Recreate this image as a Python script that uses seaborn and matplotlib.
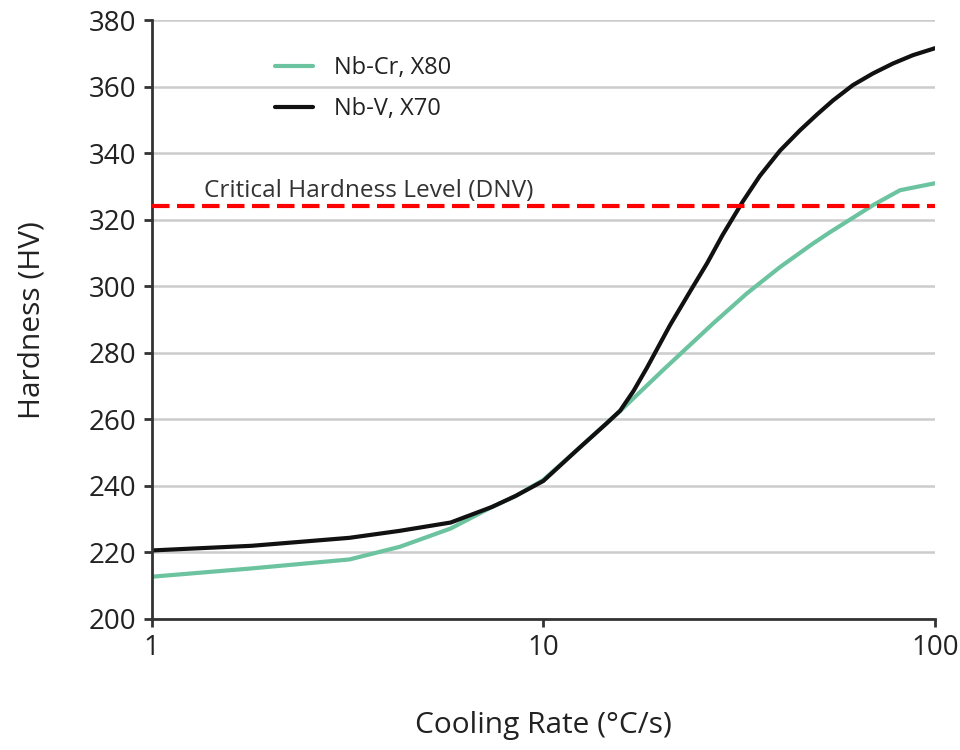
import numpy as np
import pandas as pd
import matplotlib
matplotlib.use("Agg")
import matplotlib.pyplot as plt
import seaborn as sns
from matplotlib.ticker import FixedLocator, FixedFormatter, NullLocator

# ---- data ----
series_names = ["Nb-Cr, X80", "Nb-V, X70"]

nbcr_x = [1, 1.8, 3.2, 4.3, 5.8, 7.4, 8.5, 10, 12.4, 15.7, 20.2, 27.1, 33.1, 40.2,
          48.7, 53.8, 69.4, 81.4, 100]
nbcr_y = [212.7, 215.2, 217.9, 221.7, 227.2, 233.7, 237, 241.8, 251.6, 262.5, 274.8,
          288.8, 297.9, 305.8, 312.8, 316.2, 324.4, 328.9, 331]

nbv_x = [1, 1.8, 3.2, 4.3, 5.8, 7.4, 8.5, 10, 12.4, 14.5, 15.7, 17, 18.4, 21.05, 23.7,
         26.2, 28.7, 32.3, 35.7, 40.2, 45.2, 50, 54.9, 61.7, 69.4, 78.1, 87.8, 100]
nbv_y = [220.6, 222, 224.4, 226.5, 229, 233.7, 237, 241.5, 251.6, 258.8, 262.6, 268.6,
         275.6, 288.3, 298.5, 307, 315.5, 325.5, 333.2, 340.8, 346.9, 351.7, 355.9,
         360.5, 364, 367, 369.5, 371.6]

critical_level = 324.3
critical_label = "Critical Hardness Level (DNV)"

x_ticks = [1, 10, 100]
x_tick_labels = ["1", "10", "100"]
y_ticks = [200, 220, 240, 260, 280, 300, 320, 340, 360, 380]

colors = ["#6cc3a0", "#111111"]

df = pd.concat([
    pd.DataFrame({"rate": nbcr_x, "hv": nbcr_y, "alloy": series_names[0]}),
    pd.DataFrame({"rate": nbv_x, "hv": nbv_y, "alloy": series_names[1]}),
])

sns.set_theme(style="white")
plt.rcParams["font.family"] = ["Open Sans", "DejaVu Sans"]

fig = plt.figure(figsize=(9.6, 7.5), dpi=100)
ax = fig.add_axes([0.158, 0.1747, 0.816, 0.7983])

for y in y_ticks:
    ax.axhline(y, color="#cccccc", lw=1.8, zorder=0)

sns.lineplot(data=df, x="rate", y="hv", hue="alloy", palette=colors,
             hue_order=series_names, ax=ax, lw=3, sort=False, estimator=None)
ax.lines[-1].set_linewidth(3.3)
for ln in ax.lines:
    ln.set_solid_joinstyle("round")
    ln.set_solid_capstyle("round")

ax.axhline(critical_level, color="#ff0000", lw=3.0, dashes=(4.2, 1.8), zorder=3)
ax.text(1.36, critical_level + 2.6, critical_label, fontsize=17.6, color="#333333",
        va="baseline", ha="left")

ax.set_xscale("log")
ax.set_xlim(1, 100)
ax.set_ylim(200, 380)
ax.xaxis.set_major_locator(FixedLocator(x_ticks))
ax.xaxis.set_major_formatter(FixedFormatter(x_tick_labels))
ax.xaxis.set_minor_locator(NullLocator())
ax.set_yticks(y_ticks)

for s in ["top", "right"]:
    ax.spines[s].set_visible(False)
for s in ["left", "bottom"]:
    ax.spines[s].set_color("#333333")
    ax.spines[s].set_linewidth(2)

ax.tick_params(axis="both", which="major", direction="out", length=6, width=2,
               color="#333333", labelsize=20, labelcolor="#222222", pad=5)
ax.tick_params(axis="both", bottom=True, left=True)

ax.set_xlabel("Cooling Rate (°C/s)", fontsize=21.5, color="#222222", labelpad=35)
ax.set_ylabel("Hardness (HV)", fontsize=21.5, color="#222222", labelpad=30)

leg = ax.legend(title=None, frameon=False, fontsize=17, loc="upper left",
                bbox_to_anchor=(0.13, 0.975), handlelength=1.6, handletextpad=0.9,
                labelspacing=0.7)
for t in leg.get_texts():
    t.set_color("#222222")
for h in leg.get_lines():
    h.set_linewidth(3)

fig.savefig("out.png", dpi=100, facecolor="white")
